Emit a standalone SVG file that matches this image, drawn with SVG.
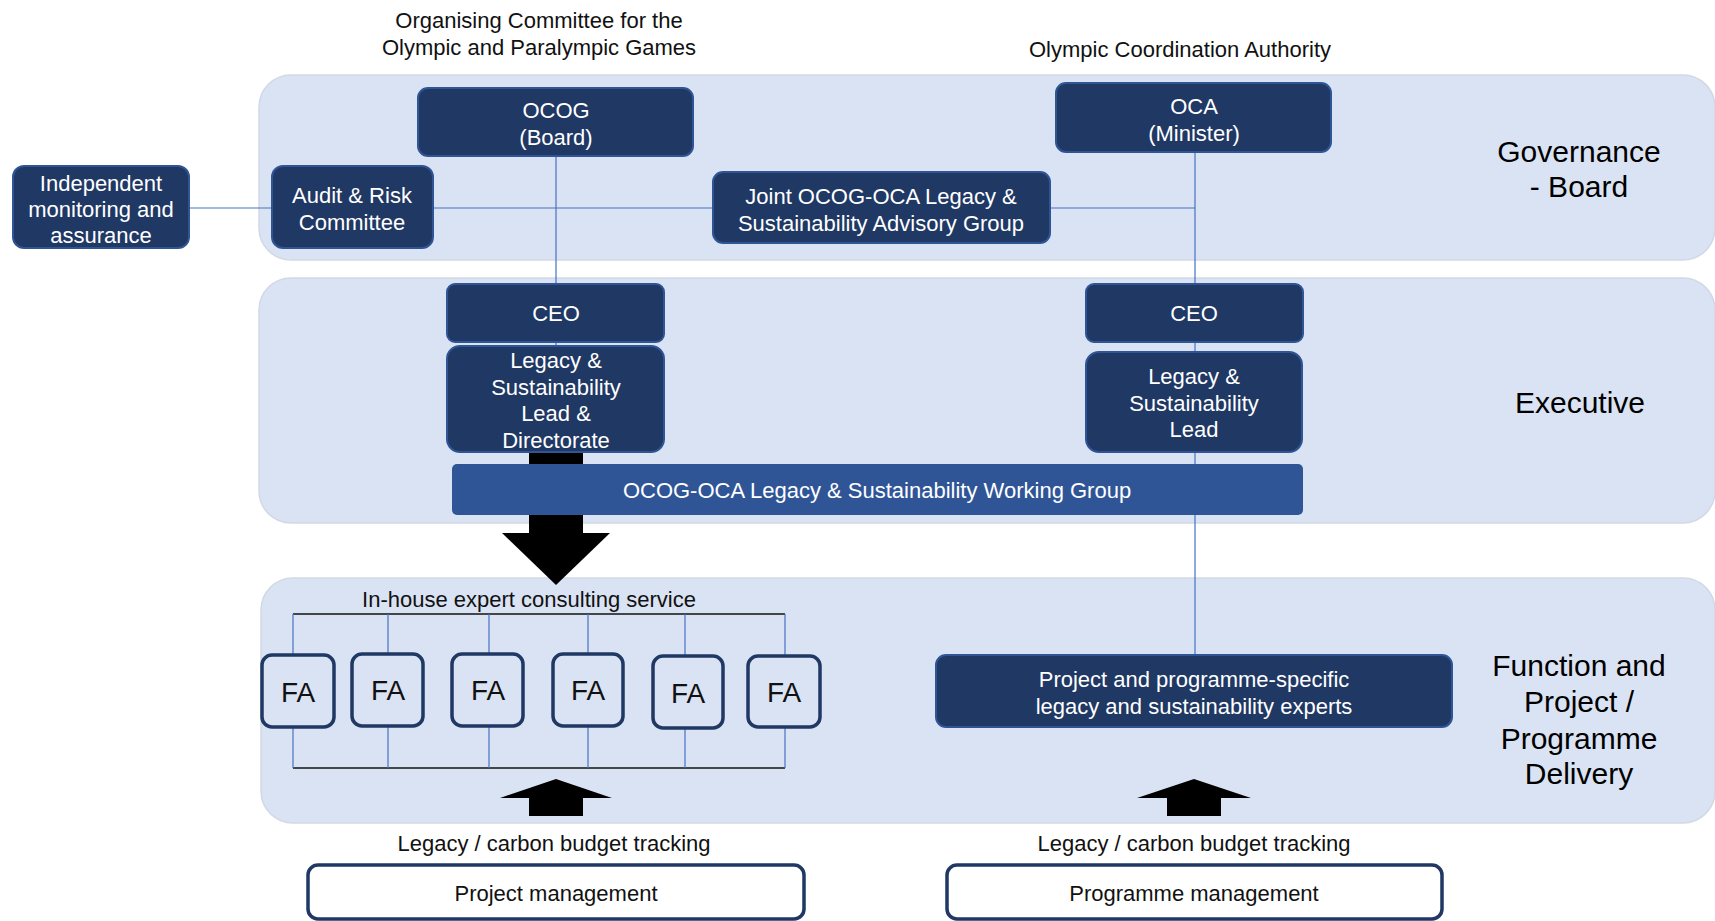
<svg xmlns="http://www.w3.org/2000/svg" width="1715" height="921" viewBox="0 0 1715 921">
<style>
text{font-family:"Liberation Sans",Arial,sans-serif;dominant-baseline:central;text-anchor:middle}
.band{fill:#dae3f3;stroke:#d2d9e5;stroke-width:1.5}
.node{fill:#203864;stroke:#2f5597;stroke-width:2}
.wt{fill:#ffffff;font-size:22px}
.bt{fill:#111111;font-size:22px}
.lbl{fill:#000000;font-size:30px}
.fa{fill:#dae3f3;stroke:#203864;stroke-width:3.5}
.fat{fill:#111111;font-size:28px}
.wbox{fill:#ffffff;stroke:#203864;stroke-width:3.5}
.conn{stroke:#4472c4;stroke-width:1.2;fill:none}
.blk{stroke:#111111;stroke-width:1.3;fill:none}
</style>
<rect width="1715" height="921" fill="#ffffff"/>
<g id="bands">
<rect class="band" x="259" y="75" width="1456" height="185" rx="32"/>
<rect class="band" x="259" y="278" width="1456" height="245" rx="32"/>
<rect class="band" x="261" y="578" width="1454" height="245" rx="32"/>
</g>
<g id="titles">
<text class="bt" x="539" y="20">Organising Committee for the</text>
<text class="bt" x="539" y="47">Olympic and Paralympic Games</text>
<text class="bt" x="1180" y="49">Olympic Coordination Authority</text>
<text class="lbl" x="1579" y="151">Governance</text>
<text class="lbl" x="1579" y="186">- Board</text>
<text class="lbl" x="1580" y="402">Executive</text>
<text class="lbl" x="1579" y="665">Function and</text>
<text class="lbl" x="1579" y="701">Project /</text>
<text class="lbl" x="1579" y="738">Programme</text>
<text class="lbl" x="1579" y="773">Delivery</text>
</g>
<g id="connectors">
<line class="conn" x1="189" y1="208" x2="1195" y2="208"/>
<line class="conn" x1="556" y1="156" x2="556" y2="346"/>
<line class="conn" x1="1195" y1="152" x2="1195" y2="654"/>
<line class="blk" x1="293" y1="614" x2="785" y2="614"/>
<line class="blk" x1="293" y1="768" x2="785" y2="768"/>
<line class="conn" x1="293" y1="614" x2="293" y2="655"/>
<line class="conn" x1="388" y1="614" x2="388" y2="654"/>
<line class="conn" x1="489" y1="614" x2="489" y2="654"/>
<line class="conn" x1="588" y1="614" x2="588" y2="654"/>
<line class="conn" x1="685" y1="614" x2="685" y2="656"/>
<line class="conn" x1="785" y1="614" x2="785" y2="656"/>
<line class="conn" x1="293" y1="727" x2="293" y2="768"/>
<line class="conn" x1="388" y1="726" x2="388" y2="768"/>
<line class="conn" x1="489" y1="726" x2="489" y2="768"/>
<line class="conn" x1="588" y1="726" x2="588" y2="768"/>
<line class="conn" x1="685" y1="728" x2="685" y2="768"/>
<line class="conn" x1="785" y1="727" x2="785" y2="768"/>
<rect x="529" y="450" width="54" height="84" fill="#000000"/>
<polygon points="502,533 610,533 556,585" fill="#000000"/>
<polygon points="556,779 612,798 583,798 583,816 529,816 529,798 500,798" fill="#000000"/>
<polygon points="1194,779 1251,798 1221,798 1221,816 1167,816 1167,798 1137,798" fill="#000000"/>
</g>
<g id="n-independent">
<rect class="node" x="13" y="166" width="176" height="82" rx="11"/>
<text class="wt" x="101" y="183">Independent</text>
<text class="wt" x="101" y="209">monitoring and</text>
<text class="wt" x="101" y="235">assurance</text>
</g>
<g id="n-audit">
<rect class="node" x="272" y="166" width="161" height="82" rx="11"/>
<text class="wt" x="352" y="195">Audit &amp; Risk</text>
<text class="wt" x="352" y="222">Committee</text>
</g>
<g id="n-ocog">
<rect class="node" x="418" y="88" width="275" height="68" rx="10"/>
<text class="wt" x="556" y="110">OCOG</text>
<text class="wt" x="556" y="137">(Board)</text>
</g>
<g id="n-joint">
<rect class="node" x="713" y="172" width="337" height="71" rx="10"/>
<text class="wt" x="881" y="196">Joint OCOG-OCA Legacy &amp;</text>
<text class="wt" x="881" y="223">Sustainability Advisory Group</text>
</g>
<g id="n-oca">
<rect class="node" x="1056" y="83" width="275" height="69" rx="10"/>
<text class="wt" x="1194" y="106">OCA</text>
<text class="wt" x="1194" y="133">(Minister)</text>
</g>
<g id="n-ceo-left">
<rect class="node" x="447" y="284" width="217" height="58" rx="8"/>
<text class="wt" x="556" y="313">CEO</text>
</g>
<g id="n-lead-left">
<rect class="node" x="447" y="346" width="217" height="106" rx="13"/>
<text class="wt" x="556" y="360">Legacy &amp;</text>
<text class="wt" x="556" y="387">Sustainability</text>
<text class="wt" x="556" y="413">Lead &amp;</text>
<text class="wt" x="556" y="440">Directorate</text>
</g>
<g id="n-ceo-right">
<rect class="node" x="1086" y="284" width="217" height="58" rx="8"/>
<text class="wt" x="1194" y="313">CEO</text>
</g>
<g id="n-lead-right">
<rect class="node" x="1086" y="352" width="216" height="100" rx="13"/>
<text class="wt" x="1194" y="376">Legacy &amp;</text>
<text class="wt" x="1194" y="403">Sustainability</text>
<text class="wt" x="1194" y="429">Lead</text>
</g>
<g id="n-working-group">
<rect x="452" y="464" width="851" height="51" rx="5" fill="#2f5597"/>
<text class="wt" x="877" y="490">OCOG-OCA Legacy &amp; Sustainability Working Group</text>
</g>
<g id="n-inhouse-label">
<text class="bt" x="529" y="599">In-house expert consulting service</text>
</g>
<g id="n-fa1"><rect class="fa" x="262" y="655" width="72" height="72" rx="10"/><text class="fat" x="298" y="692">FA</text></g>
<g id="n-fa2"><rect class="fa" x="352" y="654" width="71" height="72" rx="10"/><text class="fat" x="388" y="690">FA</text></g>
<g id="n-fa3"><rect class="fa" x="452" y="654" width="71" height="72" rx="10"/><text class="fat" x="488" y="690">FA</text></g>
<g id="n-fa4"><rect class="fa" x="553" y="654" width="70" height="72" rx="10"/><text class="fat" x="588" y="690">FA</text></g>
<g id="n-fa5"><rect class="fa" x="653" y="656" width="70" height="72" rx="10"/><text class="fat" x="688" y="693">FA</text></g>
<g id="n-fa6"><rect class="fa" x="748" y="656" width="72" height="71" rx="10"/><text class="fat" x="784" y="692">FA</text></g>
<g id="n-experts">
<rect class="node" x="936" y="655" width="516" height="72" rx="10"/>
<text class="wt" x="1194" y="679">Project and programme-specific</text>
<text class="wt" x="1194" y="706">legacy and sustainability experts</text>
</g>
<g id="n-tracking-left">
<text class="bt" x="554" y="843">Legacy / carbon budget tracking</text>
</g>
<g id="n-tracking-right">
<text class="bt" x="1194" y="843">Legacy / carbon budget tracking</text>
</g>
<g id="n-project-mgmt">
<rect class="wbox" x="308" y="865" width="496" height="54" rx="10"/>
<text class="bt" x="556" y="893">Project management</text>
</g>
<g id="n-programme-mgmt">
<rect class="wbox" x="947" y="865" width="495" height="54" rx="10"/>
<text class="bt" x="1194" y="893">Programme management</text>
</g>
</svg>
